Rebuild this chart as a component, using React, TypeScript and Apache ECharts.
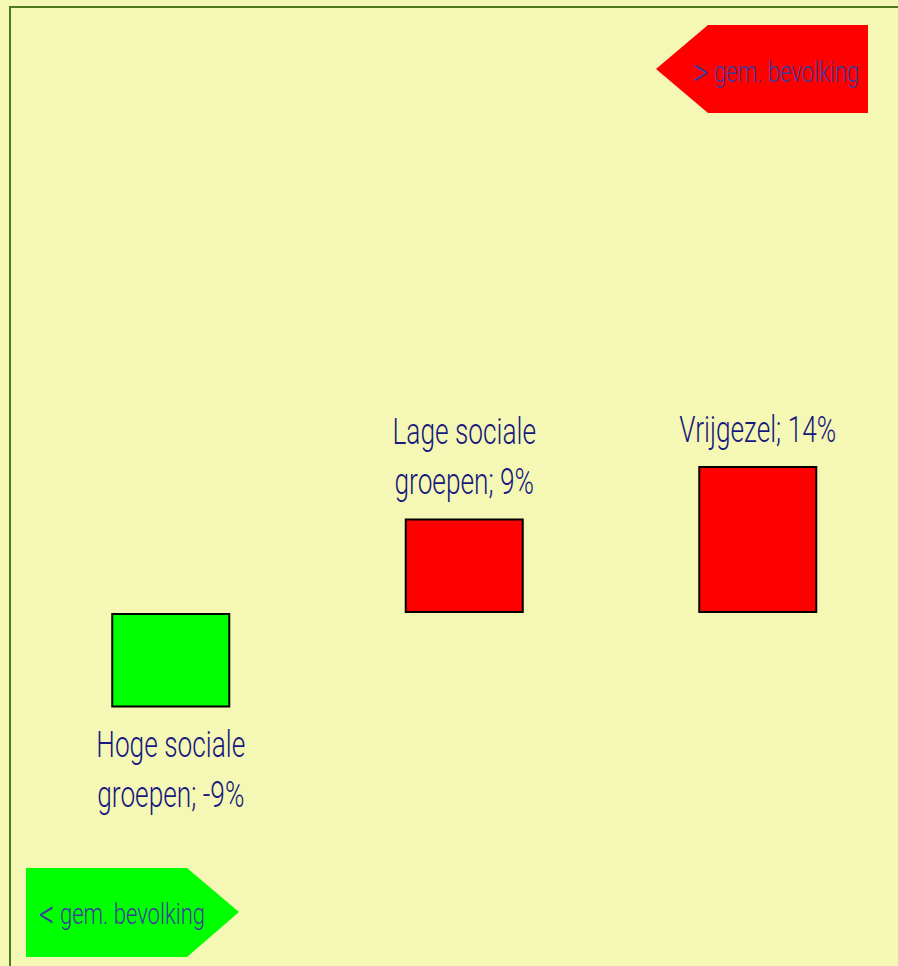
import React, { useEffect, useRef } from "react";
import * as echarts from "echarts";

const categories = ["Hoge sociale\ngroepen", "Lage sociale\ngroepen", "Vrijgezel"];
const values = [-9, 9, 14];
const tagAboveSign = ">";
const tagBelowSign = "<";
const tagText = "gem. bevolking";

const BG = "#F5F7B4";
const LABEL_COLOR = "#16187d";
const TAG_TEXT = "#3b3b9e";
const FONT = 'Roboto, "DejaVu Sans Condensed", sans-serif';
const LABEL_SIZE = 37;
const LABEL_SCALE = 0.71;
const LINE_GAP = 50;
const LABEL_OFFSET = 37;

const tagRich = {
  s: { font: `300 40px ${FONT}`, fill: TAG_TEXT, verticalAlign: "middle" },
  t: { font: `300 29px ${FONT}`, fill: TAG_TEXT, verticalAlign: "middle" },
};

export default function App() {
  const ref = useRef<HTMLDivElement>(null);
  useEffect(() => {
    document.body.style.margin = "0";
    document.body.style.background = BG;
    document.body.style.overflow = "hidden";
    const chart = echarts.init(ref.current!, null, { renderer: "svg" });
    chart.setOption({
      animation: false,
      backgroundColor: BG,
      grid: { left: 24, top: 193, width: 880.5, height: 735, containLabel: false },
      xAxis: {
        type: "category",
        data: categories,
        show: false,
      },
      yAxis: {
        type: "value",
        min: -30,
        max: 40,
        show: false,
      },
      series: [
        {
          type: "bar",
          barWidth: 119,
          data: values.map((v) => ({
            value: v,
            itemStyle: { color: v < 0 ? "#00FF00" : "#FF0000" },
          })),
          itemStyle: { borderColor: "#000000", borderWidth: 2 },
        },
        {
          type: "custom",
          data: values.map((v, i) => [i, v]),
          renderItem: (params: any, api: any) => {
            const i = api.value(0);
            const v = api.value(1);
            const pt = api.coord([i, v]);
            const lines = `${categories[i]}; ${v}%`.split("\n");
            const n = lines.length;
            const children = lines.map((ln: string, k: number) => {
              const y =
                v < 0
                  ? pt[1] + LABEL_OFFSET + k * LINE_GAP
                  : pt[1] - LABEL_OFFSET - (n - 1 - k) * LINE_GAP;
              return {
                type: "text",
                x: pt[0],
                y,
                scaleX: LABEL_SCALE,
                style: {
                  text: ln,
                  align: "center",
                  verticalAlign: "middle",
                  font: `300 ${LABEL_SIZE}px ${FONT}`,
                  fill: LABEL_COLOR,
                },
              };
            });
            return { type: "group", children };
          },
          z: 5,
        },
      ],
      graphic: [
        {
          type: "rect",
          shape: { x: 10, y: 7, width: 920, height: 990 },
          style: { fill: "none", stroke: "#4d7a1c", lineWidth: 2 },
          silent: true,
          z: 10,
        },
        {
          type: "polygon",
          shape: { points: [[656, 69], [708, 25], [868, 25], [868, 113], [708, 113]] },
          style: { fill: "#FF0000" },
          z: 5,
        },
        {
          type: "text",
          x: 859,
          y: 72,
          scaleX: 0.76,
          style: {
            text: `{s|${tagAboveSign}} {t|${tagText}}`,
            rich: tagRich,
            align: "right",
            verticalAlign: "middle",
            font: `300 29px ${FONT}`,
            fill: TAG_TEXT,
          },
          z: 6,
        },
        {
          type: "polygon",
          shape: { points: [[26, 868], [187, 868], [239, 912], [187, 957], [26, 957]] },
          style: { fill: "#00FF00" },
          z: 5,
        },
        {
          type: "text",
          x: 39,
          y: 914,
          scaleX: 0.76,
          style: {
            text: `{s|${tagBelowSign}} {t|${tagText}}`,
            rich: tagRich,
            align: "left",
            verticalAlign: "middle",
            font: `300 29px ${FONT}`,
            fill: TAG_TEXT,
          },
          z: 6,
        },
      ],
    });
    return () => chart.dispose();
  }, []);
  return (
    <div
      ref={ref}
      style={{ position: "fixed", left: 0, top: 0, width: 920, height: 966 }}
    />
  );
}
